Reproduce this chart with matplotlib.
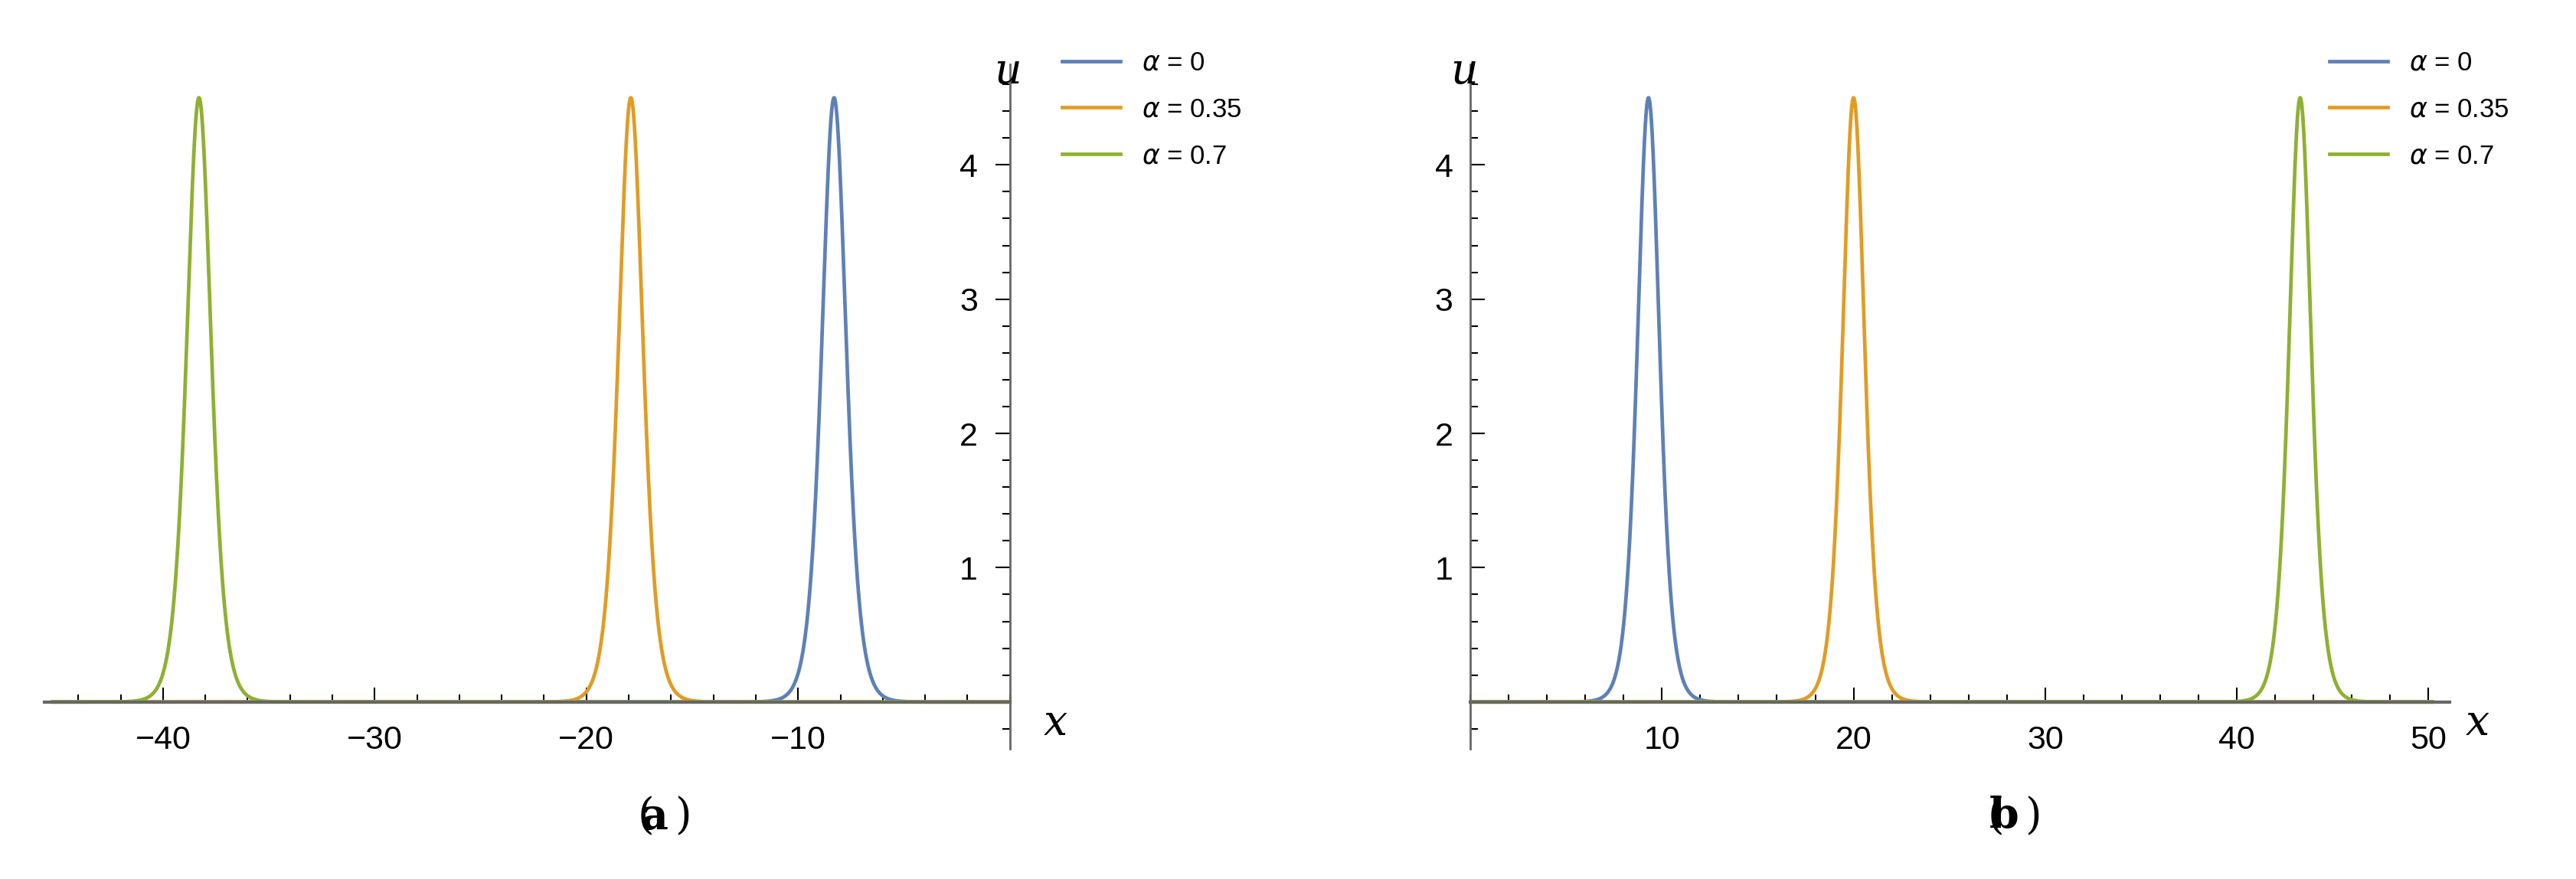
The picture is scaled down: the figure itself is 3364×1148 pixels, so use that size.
import numpy as np
import matplotlib
matplotlib.use("Agg")
import matplotlib.pyplot as plt
from matplotlib.ticker import MultipleLocator

labels = [r"$\alpha$ = 0", r"$\alpha$ = 0.35", r"$\alpha$ = 0.7"]
colors = ["#5E81B5", "#E19C24", "#8FB032"]
amplitude = 4.5
k = 1.3
centers_a = [-8.3, -17.9, -38.3]
centers_b = [9.3, 20.0, 43.3]
range_a = (-45.2, 0.0)
range_b = (0.0, 50.2)

plt.rcParams['font.family'] = ['Liberation Sans', 'DejaVu Sans']
fig = plt.figure(figsize=(33.64, 11.48), dpi=100)

def panel(rect, centers, xr, xlim, xticks, side, leg_x, lab, lab_x, xlab_x):
    ax = fig.add_axes(rect)
    x = np.linspace(xr[0], xr[1], 4000)
    for c, col, l in zip(centers, colors, labels):
        ax.plot(x, amplitude / np.cosh(k * (x - c)) ** 2, color=col, lw=3.4, label=l)
    ax.set_xlim(*xlim)
    ax.set_ylim(-0.35, 4.75)
    for s in ['top', 'right', 'left']:
        if s != side:
            ax.spines[s].set_visible(False)
    ax.spines['bottom'].set_position(('data', 0))
    ax.spines[side].set_position(('data', 0))
    for s in ['bottom', side]:
        ax.spines[s].set_color('#666666')
        ax.spines[s].set_linewidth(2)
    ax.spines['bottom'].set_linewidth(3)
    ax.set_xticks(xticks)
    ax.set_yticks([1, 2, 3, 4])
    ax.xaxis.set_minor_locator(MultipleLocator(2))
    ax.yaxis.set_minor_locator(MultipleLocator(0.2))
    ax.tick_params(axis='x', which='both', direction='in', labelsize=31, pad=22)
    ax.tick_params(axis='y', labelsize=31)
    ax.tick_params(which='major', length=14, width=1.5)
    ax.tick_params(which='minor', length=7, width=1.5)
    if side == 'left':
        ax.tick_params(axis='y', which='both', direction='in', pad=16)
    fig.text(xlab_x, 1 - 945 / 1148, "x", fontsize=40, style='italic', family='DejaVu Serif', va='center')
    fig.text(lab_x, 1 - 1067 / 1148, "(", fontsize=40, family='DejaVu Serif', ha='right', va='center')
    fig.text(lab_x, 1 - 1067 / 1148, lab, fontsize=40, family='DejaVu Serif', weight='bold', ha='center', va='center')
    fig.text(lab_x + 0.008, 1 - 1067 / 1148, ")", fontsize=40, family='DejaVu Serif', ha='left', va='center')
    fig.legend(handles=ax.get_lines(), loc='upper left', bbox_to_anchor=(leg_x, 0.97),
               frameon=False, fontsize=25, handlelength=2.2, labelspacing=0.8)
    return ax

axa = panel([58 / 3364, 0.148, (1317 - 58) / 3364 + 0.0005, 0.779], centers_a, range_a,
            (-45.6, 0.0), [-40, -30, -20, -10], 'right', 0.403, "a", 0.254, 0.405)
axa.tick_params(axis='y', which='both', left=False, labelleft=False, right=True, labelright=True, direction='in')
for t in axa.get_yticklabels():
    t.set_horizontalalignment('right')
axa.tick_params(axis='y', pad=-30)
fig.text(0.386, 0.905, "u", fontsize=40, style='italic', family='DejaVu Serif')

axb = panel([1920 / 3364, 0.148, (3199 - 1920) / 3364, 0.779], centers_b, range_b,
            (0.0, 51.1), [10, 20, 30, 40, 50], 'left', 0.895, "b", 0.778, 0.957)
fig.text(0.563, 0.905, "u", fontsize=40, style='italic', family='DejaVu Serif')

fig.savefig("out.png", dpi=100)
